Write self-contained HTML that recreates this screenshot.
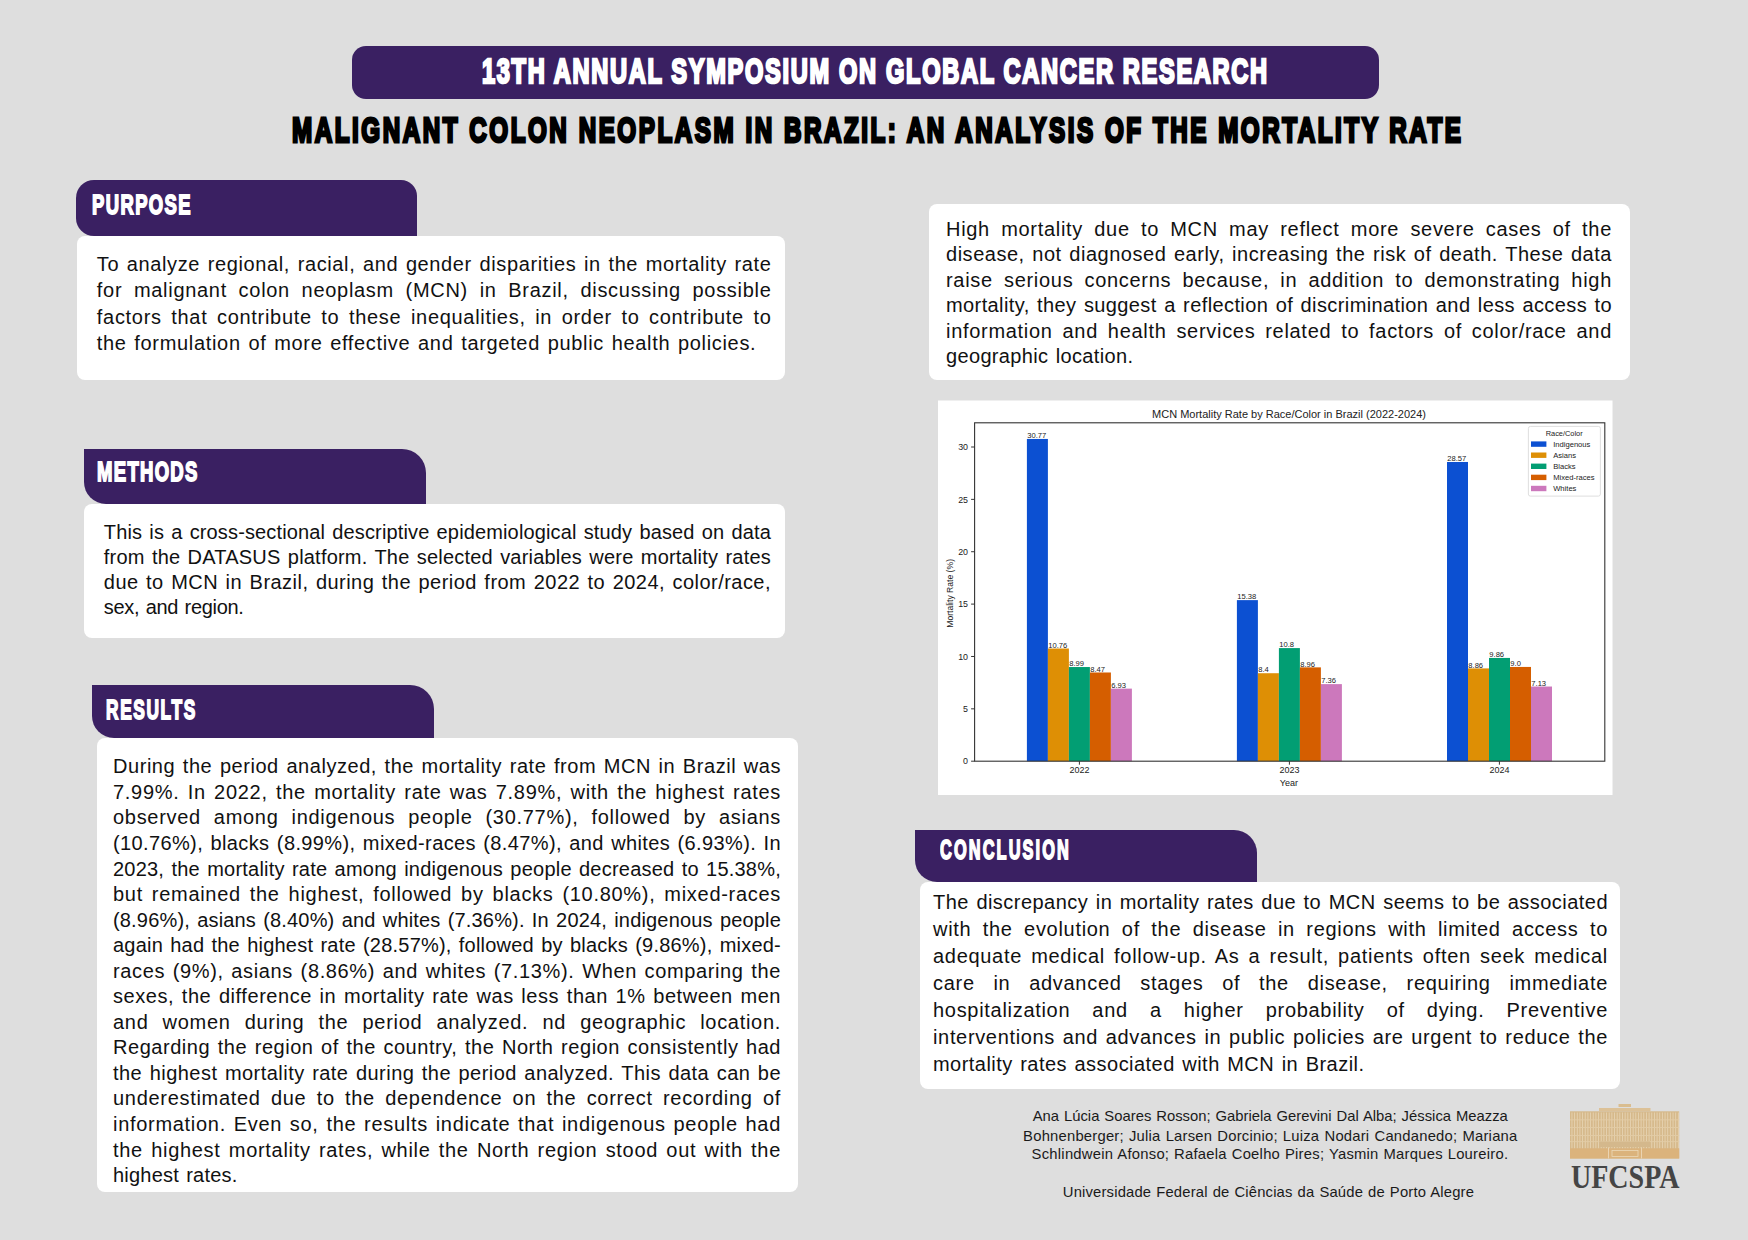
<!DOCTYPE html><html><head><meta charset="utf-8"><title>Poster</title><style>
html,body{margin:0;padding:0}body{width:1748px;height:1240px;background:#dedede;position:relative;overflow:hidden;font-family:"Liberation Sans",sans-serif}
.bx{position:absolute}
.bt{position:absolute;white-space:nowrap;line-height:1.117;color:#111;font-family:"Liberation Sans",sans-serif}
.hd{position:absolute;white-space:nowrap;line-height:1.117;transform-origin:0 0}
.ct{position:absolute;white-space:nowrap;line-height:1.117;text-align:center;color:#1a1a1a}
</style></head><body>
<div class="bx" style="left:352.00px;top:45.50px;width:1027.00px;height:53.00px;background:#3a2062;border-radius:14px;"></div>
<div class="hd" style="left:481.88px;top:52.06px;font-size:34.74px;color:#fff;font-weight:bold;-webkit-text-stroke:2.60px #fff;font-family:'Liberation Sans', sans-serif;letter-spacing:2.459px;transform:scaleX(0.6800)">13TH ANNUAL SYMPOSIUM ON GLOBAL CANCER RESEARCH</div>
<div class="hd" style="left:292.02px;top:110.57px;font-size:35.61px;color:#000;font-weight:bold;-webkit-text-stroke:3.00px #000;font-family:'Liberation Sans', sans-serif;letter-spacing:3.722px;transform:scaleX(0.6800)">MALIGNANT COLON NEOPLASM IN BRAZIL: AN ANALYSIS OF THE MORTALITY RATE</div>
<div class="bx" style="left:75.80px;top:180.40px;width:340.90px;height:55.60px;background:#3a2062;border-radius:18px 16px 0 18px;"></div>
<div class="bx" style="left:77.00px;top:236.00px;width:708.00px;height:144.00px;background:#fff;border-radius:8px;"></div>
<div class="hd" style="left:92.39px;top:189.44px;font-size:27.91px;color:#fff;font-weight:bold;-webkit-text-stroke:1.80px #fff;font-family:'Liberation Sans', sans-serif;letter-spacing:2.158px;transform:scaleX(0.6600)">PURPOSE</div>
<div class="bt" style="left:96.80px;top:252.90px;width:674.70px;font-size:20.00px;letter-spacing:0.615px;text-align:justify;text-align-last:justify">To analyze regional, racial, and gender disparities in the mortality rate</div>
<div class="bt" style="left:96.80px;top:279.23px;width:674.70px;font-size:20.00px;letter-spacing:0.700px;text-align:justify;text-align-last:justify">for malignant colon neoplasm (MCN) in Brazil, discussing possible</div>
<div class="bt" style="left:96.80px;top:305.56px;width:674.70px;font-size:20.00px;letter-spacing:0.700px;text-align:justify;text-align-last:justify">factors that contribute to these inequalities, in order to contribute to</div>
<div class="bt" style="left:96.80px;top:331.89px;width:659.50px;font-size:20.00px;letter-spacing:0.673px;text-align:justify;text-align-last:justify">the formulation of more effective and targeted public health policies.</div>
<div class="bx" style="left:84.00px;top:449.00px;width:341.70px;height:55.00px;background:#3a2062;border-radius:0 24px 0 22px;"></div>
<div class="bx" style="left:84.00px;top:504.00px;width:701.00px;height:134.00px;background:#fff;border-radius:8px;"></div>
<div class="hd" style="left:96.79px;top:456.31px;font-size:28.05px;color:#fff;font-weight:bold;-webkit-text-stroke:1.80px #fff;font-family:'Liberation Sans', sans-serif;letter-spacing:1.980px;transform:scaleX(0.6600)">METHODS</div>
<div class="bt" style="left:103.80px;top:520.90px;width:667.20px;font-size:20.00px;letter-spacing:0.138px;text-align:justify;text-align-last:justify">This is a cross-sectional descriptive epidemiological study based on data</div>
<div class="bt" style="left:103.80px;top:545.90px;width:667.20px;font-size:20.00px;letter-spacing:0.208px;text-align:justify;text-align-last:justify">from the DATASUS platform. The selected variables were mortality rates</div>
<div class="bt" style="left:103.80px;top:570.90px;width:667.20px;font-size:20.00px;letter-spacing:0.460px;text-align:justify;text-align-last:justify">due to MCN in Brazil, during the period from 2022 to 2024, color/race,</div>
<div class="bt" style="left:103.80px;top:595.90px;width:139.80px;font-size:20.00px;letter-spacing:-0.300px;text-align:justify;text-align-last:justify">sex, and region.</div>
<div class="bx" style="left:92.00px;top:685.00px;width:342.00px;height:53.00px;background:#3a2062;border-radius:0 24px 0 22px;"></div>
<div class="bx" style="left:97.00px;top:738.00px;width:701.00px;height:454.30px;background:#fff;border-radius:8px;"></div>
<div class="hd" style="left:106.36px;top:694.44px;font-size:27.91px;color:#fff;font-weight:bold;-webkit-text-stroke:1.80px #fff;font-family:'Liberation Sans', sans-serif;letter-spacing:2.641px;transform:scaleX(0.6200)">RESULTS</div>
<div class="bt" style="left:113.00px;top:755.30px;width:668.00px;font-size:20.00px;letter-spacing:0.550px;text-align:justify;text-align-last:justify">During the period analyzed, the mortality rate from MCN in Brazil was</div>
<div class="bt" style="left:113.00px;top:780.85px;width:668.00px;font-size:20.00px;letter-spacing:0.700px;text-align:justify;text-align-last:justify">7.99%. In 2022, the mortality rate was 7.89%, with the highest rates</div>
<div class="bt" style="left:113.00px;top:806.40px;width:668.00px;font-size:20.00px;letter-spacing:0.700px;text-align:justify;text-align-last:justify">observed among indigenous people (30.77%), followed by asians</div>
<div class="bt" style="left:113.00px;top:831.95px;width:668.00px;font-size:20.00px;letter-spacing:0.373px;text-align:justify;text-align-last:justify">(10.76%), blacks (8.99%), mixed-races (8.47%), and whites (6.93%). In</div>
<div class="bt" style="left:113.00px;top:857.50px;width:668.00px;font-size:20.00px;letter-spacing:0.220px;text-align:justify;text-align-last:justify">2023, the mortality rate among indigenous people decreased to 15.38%,</div>
<div class="bt" style="left:113.00px;top:883.05px;width:668.00px;font-size:20.00px;letter-spacing:0.700px;text-align:justify;text-align-last:justify">but remained the highest, followed by blacks (10.80%), mixed-races</div>
<div class="bt" style="left:113.00px;top:908.60px;width:668.00px;font-size:20.00px;letter-spacing:0.170px;text-align:justify;text-align-last:justify">(8.96%), asians (8.40%) and whites (7.36%). In 2024, indigenous people</div>
<div class="bt" style="left:113.00px;top:934.15px;width:668.00px;font-size:20.00px;letter-spacing:0.210px;text-align:justify;text-align-last:justify">again had the highest rate (28.57%), followed by blacks (9.86%), mixed-</div>
<div class="bt" style="left:113.00px;top:959.70px;width:668.00px;font-size:20.00px;letter-spacing:0.629px;text-align:justify;text-align-last:justify">races (9%), asians (8.86%) and whites (7.13%). When comparing the</div>
<div class="bt" style="left:113.00px;top:985.25px;width:668.00px;font-size:20.00px;letter-spacing:0.562px;text-align:justify;text-align-last:justify">sexes, the difference in mortality rate was less than 1% between men</div>
<div class="bt" style="left:113.00px;top:1010.80px;width:668.00px;font-size:20.00px;letter-spacing:0.700px;text-align:justify;text-align-last:justify">and women during the period analyzed. nd geographic location.</div>
<div class="bt" style="left:113.00px;top:1036.35px;width:668.00px;font-size:20.00px;letter-spacing:0.535px;text-align:justify;text-align-last:justify">Regarding the region of the country, the North region consistently had</div>
<div class="bt" style="left:113.00px;top:1061.90px;width:668.00px;font-size:20.00px;letter-spacing:0.459px;text-align:justify;text-align-last:justify">the highest mortality rate during the period analyzed. This data can be</div>
<div class="bt" style="left:113.00px;top:1087.45px;width:668.00px;font-size:20.00px;letter-spacing:0.700px;text-align:justify;text-align-last:justify">underestimated due to the dependence on the correct recording of</div>
<div class="bt" style="left:113.00px;top:1113.00px;width:668.00px;font-size:20.00px;letter-spacing:0.700px;text-align:justify;text-align-last:justify">information. Even so, the results indicate that indigenous people had</div>
<div class="bt" style="left:113.00px;top:1138.55px;width:668.00px;font-size:20.00px;letter-spacing:0.700px;text-align:justify;text-align-last:justify">the highest mortality rates, while the North region stood out with the</div>
<div class="bt" style="left:113.00px;top:1164.10px;width:124.50px;font-size:20.00px;letter-spacing:0.209px;text-align:justify;text-align-last:justify">highest rates.</div>
<div class="bx" style="left:928.70px;top:204.00px;width:701.30px;height:176.00px;background:#fff;border-radius:8px;"></div>
<div class="bt" style="left:946.00px;top:217.80px;width:666.00px;font-size:20.00px;letter-spacing:0.700px;text-align:justify;text-align-last:justify">High mortality due to MCN may reflect more severe cases of the</div>
<div class="bt" style="left:946.00px;top:243.30px;width:666.00px;font-size:20.00px;letter-spacing:0.527px;text-align:justify;text-align-last:justify">disease, not diagnosed early, increasing the risk of death. These data</div>
<div class="bt" style="left:946.00px;top:268.80px;width:666.00px;font-size:20.00px;letter-spacing:0.700px;text-align:justify;text-align-last:justify">raise serious concerns because, in addition to demonstrating high</div>
<div class="bt" style="left:946.00px;top:294.30px;width:666.00px;font-size:20.00px;letter-spacing:0.395px;text-align:justify;text-align-last:justify">mortality, they suggest a reflection of discrimination and less access to</div>
<div class="bt" style="left:946.00px;top:319.80px;width:666.00px;font-size:20.00px;letter-spacing:0.700px;text-align:justify;text-align-last:justify">information and health services related to factors of color/race and</div>
<div class="bt" style="left:946.00px;top:345.30px;width:187.30px;font-size:20.00px;letter-spacing:0.339px;text-align:justify;text-align-last:justify">geographic location.</div>
<svg style="position:absolute;left:0;top:0" width="1748" height="1240" font-family="Liberation Sans, sans-serif">
<rect x="938.0" y="400.5" width="674.5" height="394.5" fill="#fff"/>
<rect x="1026.90" y="438.94" width="21.00" height="322.26" fill="#0c50d2"/>
<text x="1027.20" y="438.14" font-size="7.6" fill="#222">30.77</text>
<rect x="1047.90" y="648.51" width="21.00" height="112.69" fill="#de8f05"/>
<text x="1048.20" y="647.71" font-size="7.6" fill="#222">10.76</text>
<rect x="1068.90" y="667.04" width="21.00" height="94.16" fill="#029e73"/>
<text x="1069.20" y="666.24" font-size="7.6" fill="#222">8.99</text>
<rect x="1089.90" y="672.49" width="21.00" height="88.71" fill="#d55e00"/>
<text x="1090.20" y="671.69" font-size="7.6" fill="#222">8.47</text>
<rect x="1110.90" y="688.62" width="21.00" height="72.58" fill="#cc78bc"/>
<text x="1111.20" y="687.82" font-size="7.6" fill="#222">6.93</text>
<rect x="1236.90" y="600.12" width="21.00" height="161.08" fill="#0c50d2"/>
<text x="1237.20" y="599.32" font-size="7.6" fill="#222">15.38</text>
<rect x="1257.90" y="673.22" width="21.00" height="87.98" fill="#de8f05"/>
<text x="1258.20" y="672.42" font-size="7.6" fill="#222">8.4</text>
<rect x="1278.90" y="648.09" width="21.00" height="113.11" fill="#029e73"/>
<text x="1279.20" y="647.29" font-size="7.6" fill="#222">10.8</text>
<rect x="1299.90" y="667.36" width="21.00" height="93.84" fill="#d55e00"/>
<text x="1300.20" y="666.56" font-size="7.6" fill="#222">8.96</text>
<rect x="1320.90" y="684.12" width="21.00" height="77.08" fill="#cc78bc"/>
<text x="1321.20" y="683.32" font-size="7.6" fill="#222">7.36</text>
<rect x="1447.00" y="461.98" width="21.00" height="299.22" fill="#0c50d2"/>
<text x="1447.30" y="461.18" font-size="7.6" fill="#222">28.57</text>
<rect x="1468.00" y="668.41" width="21.00" height="92.79" fill="#de8f05"/>
<text x="1468.30" y="667.61" font-size="7.6" fill="#222">8.86</text>
<rect x="1489.00" y="657.93" width="21.00" height="103.27" fill="#029e73"/>
<text x="1489.30" y="657.13" font-size="7.6" fill="#222">9.86</text>
<rect x="1510.00" y="666.94" width="21.00" height="94.26" fill="#d55e00"/>
<text x="1510.30" y="666.14" font-size="7.6" fill="#222">9.0</text>
<rect x="1531.00" y="686.53" width="21.00" height="74.67" fill="#cc78bc"/>
<text x="1531.30" y="685.73" font-size="7.6" fill="#222">7.13</text>
<rect x="974.60" y="422.80" width="630.20" height="338.40" fill="none" stroke="#333" stroke-width="1.1"/>
<line x1="971.10" y1="761.20" x2="974.60" y2="761.20" stroke="#333" stroke-width="1"/>
<text x="968" y="764.40" font-size="8.9" fill="#222" text-anchor="end">0</text>
<line x1="971.10" y1="708.83" x2="974.60" y2="708.83" stroke="#333" stroke-width="1"/>
<text x="968" y="712.03" font-size="8.9" fill="#222" text-anchor="end">5</text>
<line x1="971.10" y1="656.47" x2="974.60" y2="656.47" stroke="#333" stroke-width="1"/>
<text x="968" y="659.67" font-size="8.9" fill="#222" text-anchor="end">10</text>
<line x1="971.10" y1="604.10" x2="974.60" y2="604.10" stroke="#333" stroke-width="1"/>
<text x="968" y="607.30" font-size="8.9" fill="#222" text-anchor="end">15</text>
<line x1="971.10" y1="551.73" x2="974.60" y2="551.73" stroke="#333" stroke-width="1"/>
<text x="968" y="554.93" font-size="8.9" fill="#222" text-anchor="end">20</text>
<line x1="971.10" y1="499.37" x2="974.60" y2="499.37" stroke="#333" stroke-width="1"/>
<text x="968" y="502.57" font-size="8.9" fill="#222" text-anchor="end">25</text>
<line x1="971.10" y1="447.00" x2="974.60" y2="447.00" stroke="#333" stroke-width="1"/>
<text x="968" y="450.20" font-size="8.9" fill="#222" text-anchor="end">30</text>
<line x1="1079.40" y1="761.20" x2="1079.40" y2="764.70" stroke="#333" stroke-width="1"/>
<text x="1079.40" y="773" font-size="9" fill="#222" text-anchor="middle">2022</text>
<line x1="1289.40" y1="761.20" x2="1289.40" y2="764.70" stroke="#333" stroke-width="1"/>
<text x="1289.40" y="773" font-size="9" fill="#222" text-anchor="middle">2023</text>
<line x1="1499.40" y1="761.20" x2="1499.40" y2="764.70" stroke="#333" stroke-width="1"/>
<text x="1499.40" y="773" font-size="9" fill="#222" text-anchor="middle">2024</text>
<text x="1288.8" y="785.8" font-size="9" fill="#222" text-anchor="middle">Year</text>
<text x="0" y="0" font-size="8.6" fill="#222" text-anchor="middle" transform="translate(952.8 593.4) rotate(-90)">Mortality Rate (%)</text>
<text x="1289" y="418" font-size="11" fill="#222" text-anchor="middle">MCN Mortality Rate by Race/Color in Brazil (2022-2024)</text>
<rect x="1528.4" y="426.4" width="72" height="69.7" rx="2" fill="#fff" fill-opacity="0.9" stroke="#d6d6d6" stroke-width="0.8"/>
<text x="1564.2" y="435.6" font-size="7.4" fill="#222" text-anchor="middle">Race/Color</text>
<rect x="1531" y="441.40" width="15.4" height="5.4" fill="#0c50d2"/>
<text x="1553.2" y="446.80" font-size="7.6" fill="#222">Indigenous</text>
<rect x="1531" y="452.50" width="15.4" height="5.4" fill="#de8f05"/>
<text x="1553.2" y="457.90" font-size="7.6" fill="#222">Asians</text>
<rect x="1531" y="463.60" width="15.4" height="5.4" fill="#029e73"/>
<text x="1553.2" y="469.00" font-size="7.6" fill="#222">Blacks</text>
<rect x="1531" y="474.70" width="15.4" height="5.4" fill="#d55e00"/>
<text x="1553.2" y="480.10" font-size="7.6" fill="#222">Mixed-races</text>
<rect x="1531" y="485.80" width="15.4" height="5.4" fill="#cc78bc"/>
<text x="1553.2" y="491.20" font-size="7.6" fill="#222">Whites</text>
</svg>
<div class="bx" style="left:915.00px;top:830.00px;width:341.60px;height:52.00px;background:#3a2062;border-radius:0 23px 0 22px;"></div>
<div class="bx" style="left:920.00px;top:882.00px;width:700.30px;height:207.00px;background:#fff;border-radius:8px;"></div>
<div class="hd" style="left:939.52px;top:834.38px;font-size:28.20px;color:#fff;font-weight:bold;-webkit-text-stroke:1.80px #fff;font-family:'Liberation Sans', sans-serif;letter-spacing:3.642px;transform:scaleX(0.5800)">CONCLUSION</div>
<div class="bt" style="left:933.00px;top:890.50px;width:675.00px;font-size:20.00px;letter-spacing:0.464px;text-align:justify;text-align-last:justify">The discrepancy in mortality rates due to MCN seems to be associated</div>
<div class="bt" style="left:933.00px;top:917.56px;width:675.00px;font-size:20.00px;letter-spacing:0.700px;text-align:justify;text-align-last:justify">with the evolution of the disease in regions with limited access to</div>
<div class="bt" style="left:933.00px;top:944.62px;width:675.00px;font-size:20.00px;letter-spacing:0.700px;text-align:justify;text-align-last:justify">adequate medical follow-up. As a result, patients often seek medical</div>
<div class="bt" style="left:933.00px;top:971.68px;width:675.00px;font-size:20.00px;letter-spacing:0.700px;text-align:justify;text-align-last:justify">care in advanced stages of the disease, requiring immediate</div>
<div class="bt" style="left:933.00px;top:998.74px;width:675.00px;font-size:20.00px;letter-spacing:0.700px;text-align:justify;text-align-last:justify">hospitalization and a higher probability of dying. Preventive</div>
<div class="bt" style="left:933.00px;top:1025.80px;width:675.00px;font-size:20.00px;letter-spacing:0.661px;text-align:justify;text-align-last:justify">interventions and advances in public policies are urgent to reduce the</div>
<div class="bt" style="left:933.00px;top:1052.86px;width:431.50px;font-size:20.00px;letter-spacing:0.462px;text-align:justify;text-align-last:justify">mortality rates associated with MCN in Brazil.</div>
<div class="ct" style="left:1032.70px;width:475.20px;top:1107.51px;font-size:14.80px;letter-spacing:0.015px;text-align:justify;text-align-last:justify">Ana Lúcia Soares Rosson; Gabriela Gerevini Dal Alba; Jéssica Meazza</div>
<div class="ct" style="left:1023.10px;width:494.40px;top:1127.51px;font-size:14.80px;letter-spacing:0.218px;text-align:justify;text-align-last:justify">Bohnenberger; Julia Larsen Dorcinio; Luiza Nodari Candanedo; Mariana</div>
<div class="ct" style="left:1031.60px;width:476.70px;top:1146.11px;font-size:14.80px;letter-spacing:0.244px;text-align:justify;text-align-last:justify">Schlindwein Afonso; Rafaela Coelho Pires; Yasmin Marques Loureiro.</div>
<div class="ct" style="left:1062.80px;width:411.30px;top:1184.21px;font-size:14.80px;letter-spacing:0.174px;text-align:justify;text-align-last:justify">Universidade Federal de Ciências da Saúde de Porto Alegre</div>
<svg style="position:absolute;left:0;top:0" width="1748" height="1240">
<rect x="1618.5" y="1104" width="12.5" height="3" fill="#d9bd90"/>
<rect x="1599" y="1108" width="51.5" height="3.2" fill="#dcc197"/>
<rect x="1570" y="1111.3" width="109.2" height="47.2" fill="#d6b98b"/>
<rect x="1571.50" y="1112.5" width="0.9" height="36" fill="#e6d3b2"/>
<rect x="1574.16" y="1112.5" width="0.9" height="36" fill="#e6d3b2"/>
<rect x="1576.82" y="1112.5" width="0.9" height="36" fill="#e6d3b2"/>
<rect x="1579.48" y="1112.5" width="0.9" height="36" fill="#e6d3b2"/>
<rect x="1582.14" y="1112.5" width="0.9" height="36" fill="#e6d3b2"/>
<rect x="1584.80" y="1112.5" width="0.9" height="36" fill="#e6d3b2"/>
<rect x="1587.46" y="1112.5" width="0.9" height="36" fill="#e6d3b2"/>
<rect x="1590.12" y="1112.5" width="0.9" height="36" fill="#e6d3b2"/>
<rect x="1592.78" y="1112.5" width="0.9" height="36" fill="#e6d3b2"/>
<rect x="1595.44" y="1112.5" width="0.9" height="36" fill="#e6d3b2"/>
<rect x="1598.10" y="1112.5" width="0.9" height="36" fill="#e6d3b2"/>
<rect x="1600.76" y="1112.5" width="0.9" height="36" fill="#e6d3b2"/>
<rect x="1603.42" y="1112.5" width="0.9" height="36" fill="#e6d3b2"/>
<rect x="1606.08" y="1112.5" width="0.9" height="36" fill="#e6d3b2"/>
<rect x="1608.74" y="1112.5" width="0.9" height="36" fill="#e6d3b2"/>
<rect x="1611.40" y="1112.5" width="0.9" height="36" fill="#e6d3b2"/>
<rect x="1614.06" y="1112.5" width="0.9" height="36" fill="#e6d3b2"/>
<rect x="1616.72" y="1112.5" width="0.9" height="36" fill="#e6d3b2"/>
<rect x="1619.38" y="1112.5" width="0.9" height="36" fill="#e6d3b2"/>
<rect x="1622.04" y="1112.5" width="0.9" height="36" fill="#e6d3b2"/>
<rect x="1624.70" y="1112.5" width="0.9" height="36" fill="#e6d3b2"/>
<rect x="1627.36" y="1112.5" width="0.9" height="36" fill="#e6d3b2"/>
<rect x="1630.02" y="1112.5" width="0.9" height="36" fill="#e6d3b2"/>
<rect x="1632.68" y="1112.5" width="0.9" height="36" fill="#e6d3b2"/>
<rect x="1635.34" y="1112.5" width="0.9" height="36" fill="#e6d3b2"/>
<rect x="1638.00" y="1112.5" width="0.9" height="36" fill="#e6d3b2"/>
<rect x="1640.66" y="1112.5" width="0.9" height="36" fill="#e6d3b2"/>
<rect x="1643.32" y="1112.5" width="0.9" height="36" fill="#e6d3b2"/>
<rect x="1645.98" y="1112.5" width="0.9" height="36" fill="#e6d3b2"/>
<rect x="1648.64" y="1112.5" width="0.9" height="36" fill="#e6d3b2"/>
<rect x="1651.30" y="1112.5" width="0.9" height="36" fill="#e6d3b2"/>
<rect x="1653.96" y="1112.5" width="0.9" height="36" fill="#e6d3b2"/>
<rect x="1656.62" y="1112.5" width="0.9" height="36" fill="#e6d3b2"/>
<rect x="1659.28" y="1112.5" width="0.9" height="36" fill="#e6d3b2"/>
<rect x="1661.94" y="1112.5" width="0.9" height="36" fill="#e6d3b2"/>
<rect x="1664.60" y="1112.5" width="0.9" height="36" fill="#e6d3b2"/>
<rect x="1667.26" y="1112.5" width="0.9" height="36" fill="#e6d3b2"/>
<rect x="1669.92" y="1112.5" width="0.9" height="36" fill="#e6d3b2"/>
<rect x="1672.58" y="1112.5" width="0.9" height="36" fill="#e6d3b2"/>
<rect x="1675.24" y="1112.5" width="0.9" height="36" fill="#e6d3b2"/>
<rect x="1677.90" y="1112.5" width="0.9" height="36" fill="#e6d3b2"/>
<rect x="1570" y="1119.40" width="109.2" height="0.9" fill="#e3cca6"/>
<rect x="1570" y="1127.00" width="109.2" height="0.9" fill="#e3cca6"/>
<rect x="1570" y="1135.00" width="109.2" height="0.9" fill="#e3cca6"/>
<rect x="1570" y="1141.20" width="109.2" height="0.9" fill="#e3cca6"/>
<rect x="1599" y="1141.5" width="51" height="5.5" fill="#d4b88c"/>
<rect x="1570" y="1148.4" width="109.2" height="10.1" fill="#dbb37c"/>
<rect x="1608" y="1147.5" width="0.9" height="11" fill="#ecd9b8"/>
<rect x="1641" y="1147.5" width="0.9" height="11" fill="#ecd9b8"/>
<rect x="1612" y="1150.5" width="26" height="6" fill="none" stroke="#ecd9b8" stroke-width="0.8"/>
</svg>
<div style="position:absolute;left:1570.5px;top:1157.94px;font-family:'Liberation Serif',serif;font-size:33.60px;line-height:1.15;color:#454545;font-weight:bold;white-space:nowrap;transform-origin:0 0;transform:scaleX(0.835)">UFCSPA</div>
</body></html>
